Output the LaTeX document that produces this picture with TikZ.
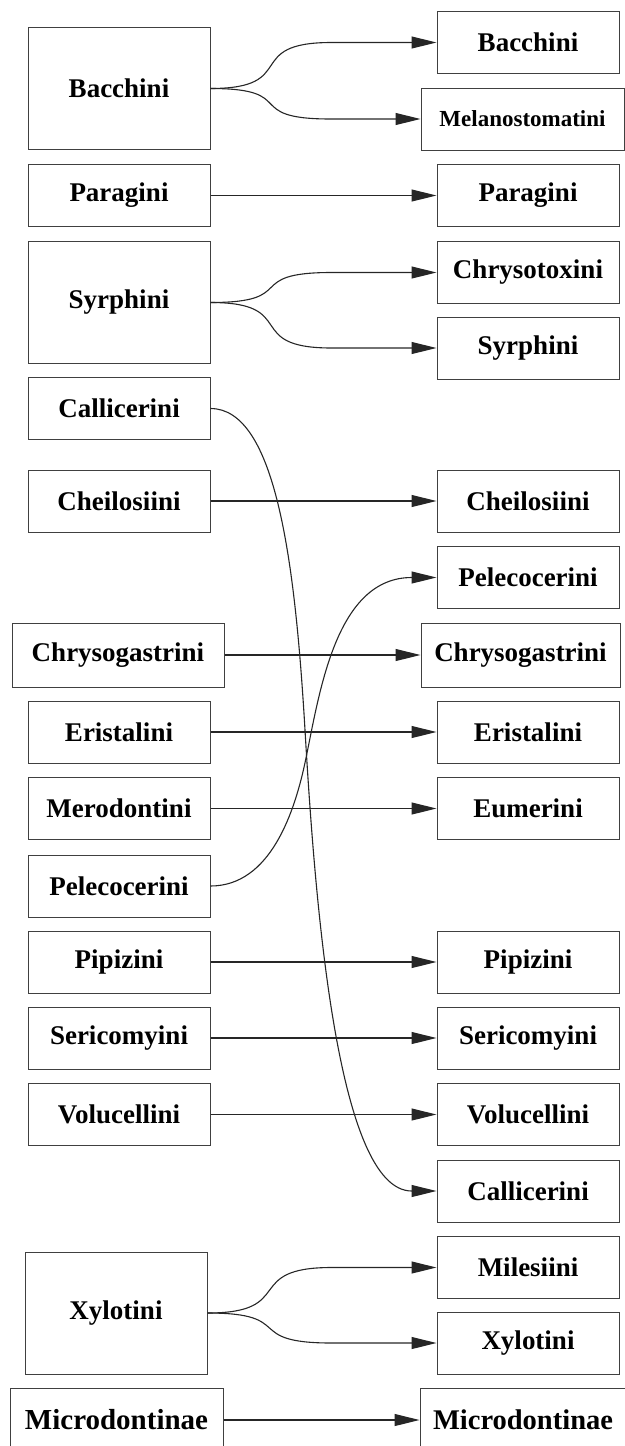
\documentclass[tikz,border=0pt]{standalone}
\usepackage{fontspec}
\setmainfont{Liberation Serif}
\usepackage{tikz}
\usetikzlibrary{arrows.meta}

\begin{document}
\begin{tikzpicture}[
        x=1pt, y=1pt,
        box/.style={rectangle, draw=black!75, line width=1pt, fill=white, minimum width=182pt, minimum height=62pt, align=center, font=\bfseries\fontsize{27}{32}\selectfont},
        tall/.style={box, minimum height=122pt},
        arrow/.style={-{Triangle[length=25pt,width=12pt]}, line width=1.1pt, black!85}
    ]
        \useasboundingbox (0,0) rectangle (624,-1446);

        % old tribes (left)
        \node[tall] (lbac) at (119,-88.5) {Bacchini};
        \node[box] (lpar) at (119,-195.5) {Paragini};
        \node[tall] (lsyr) at (119,-302.5) {Syrphini};
        \node[box] (lcal) at (119,-408.5) {Callicerini};
        \node[box] (lche) at (119,-501) {Cheilosiini};
        \node[box, minimum width=212pt, minimum height=64pt] (lchr) at (118,-655) {Chrysogastrini};
        \node[box] (lers) at (119,-732) {Eristalini};
        \node[box] (lmer) at (119,-808.5) {Merodontini};
        \node[box] (lpel) at (119,-886) {Pelecocerini};
        \node[box] (lpip) at (119,-962) {Pipizini};
        \node[box] (lser) at (119,-1038) {Sericomyini};
        \node[box] (lvol) at (119,-1114.5) {Volucellini};
        \node[tall] (lxyl) at (116,-1313) {Xylotini};
        \node[box, minimum width=213pt, minimum height=64pt, font=\bfseries\fontsize{29}{34}\selectfont] (lmic) at (116.5,-1420) {Microdontinae};

        % new tribes (right)
        \node[box] (rbac) at (528,-42.5) {Bacchini};
        \node[box, minimum width=203pt, font=\bfseries\fontsize{23}{28}\selectfont] (rmel) at (522.5,-119) {Melanostomatini};
        \node[box] (rpar) at (528,-195.5) {Paragini};
        \node[box] (rchy) at (528,-272.5) {Chrysotoxini};
        \node[box] (rsyr) at (528,-348) {Syrphini};
        \node[box] (rche) at (528,-501) {Cheilosiini};
        \node[box] (rpel) at (528,-577.5) {Pelecocerini};
        \node[box, minimum width=199pt, minimum height=64pt] (rchr) at (520.5,-655) {Chrysogastrini};
        \node[box] (rers) at (528,-732) {Eristalini};
        \node[box] (reum) at (528,-808.5) {Eumerini};
        \node[box] (rpip) at (528,-962) {Pipizini};
        \node[box] (rser) at (528,-1038) {Sericomyini};
        \node[box] (rvol) at (528,-1114.5) {Volucellini};
        \node[box] (rcal) at (528,-1191) {Callicerini};
        \node[box] (rmil) at (528,-1267.5) {Milesiini};
        \node[box] (rxyl) at (528,-1343) {Xylotini};
        \node[box, minimum width=206pt, minimum height=64pt, font=\bfseries\fontsize{28.5}{34}\selectfont] (rmic) at (523,-1420) {Microdontinae};

        % split tribes
        \draw[arrow] (lbac.east) .. controls +(90,0) and +(-90,0) .. ([xshift=-105pt]rbac.west) -- (rbac.west);
        \draw[arrow] (lbac.east) .. controls +(90,0) and +(-90,0) .. ([xshift=-90pt]rmel.west) -- (rmel.west);
        \draw[arrow] (lsyr.east) .. controls +(90,0) and +(-90,0) .. ([xshift=-105pt]rchy.west) -- (rchy.west);
        \draw[arrow] (lsyr.east) .. controls +(90,0) and +(-90,0) .. ([xshift=-105pt]rsyr.west) -- (rsyr.west);
        \draw[arrow] (lxyl.east) .. controls +(90,0) and +(-90,0) .. ([xshift=-105pt]rmil.west) -- (rmil.west);
        \draw[arrow] (lxyl.east) .. controls +(90,0) and +(-90,0) .. ([xshift=-105pt]rxyl.west) -- (rxyl.west);

        % unchanged tribes
        \draw[arrow] (lpar) -- (rpar);
        \draw[arrow] (lche) -- (rche);
        \draw[arrow] (lchr) -- (rchr);
        \draw[arrow] (lers) -- (rers);
        \draw[arrow] (lmer) -- (reum);
        \draw[arrow] (lpip) -- (rpip);
        \draw[arrow] (lser) -- (rser);
        \draw[arrow] (lvol) -- (rvol);
        \draw[arrow] (lmic) -- (rmic);

        % moved tribes
        \coordinate (kcal) at (305,-730);
        \coordinate (kpel) at (306,-758);
        \draw[arrow] (lcal.east) .. controls +(65,0) and +(-10,170) .. (kcal) .. controls +(10,-170) and +(-100,0) .. (rcal.west);
        \draw[arrow] (lpel.east) .. controls +(60,0) and +(-11,-54) .. (kpel) .. controls +(14,68) and +(-100,0) .. (rpel.west);
\end{tikzpicture}
\end{document}
